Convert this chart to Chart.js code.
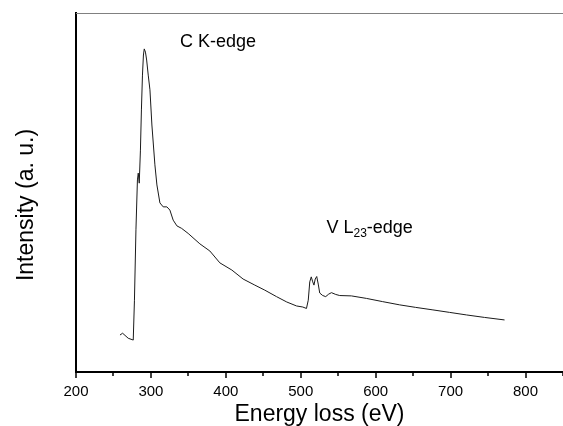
<!DOCTYPE html>
<html>
<head>
<meta charset="utf-8">
<script src="https://cdn.jsdelivr.net/npm/chart.js@4.4.0/dist/chart.umd.min.js"></script>
<style>
    html, body { margin: 0; padding: 0; background: #fff; }
    #wrap { width: 563px; height: 426px; position: relative; }
</style>
</head>
<body>
<div id="wrap"><canvas id="eelsChart"></canvas></div>
<script>
// EELS spectrum values
const energy = [
    258.7, 262.2, 269.7, 276.4, 278.0, 280.0, 282.0, 283.1, 284.4, 286.0,
    287.3, 288.7, 290.0, 291.1, 292.7, 294.3, 296.4, 298.7, 301.3, 305.3,
    308.0, 312.0, 316.4, 321.3, 325.3, 329.7, 334.7, 341.0, 349.7, 365.3,
    378.7, 392.0, 408.0, 423.0, 438.7, 452.0, 467.6, 481.3, 494.3, 502.7,
    507.6, 510.0, 512.0, 514.0, 516.0, 517.6, 519.3, 521.3, 523.3, 525.3,
    529.3, 533.3, 537.3, 541.0, 546.7, 552.0, 567.6, 587.6, 609.3, 632.0,
    653.3, 676.4, 698.7, 721.0, 745.3, 772.0
];
const intensity = [
    10.3, 10.8, 9.4, 8.9, 20.0, 39.6, 53.5, 55.4, 52.6, 61.8,
    73.0, 82.7, 88.3, 90.0, 89.1, 86.9, 82.7, 78.6, 68.8, 57.7,
    52.1, 47.1, 46.0, 46.0, 45.1, 42.3, 40.7, 40.0, 38.6, 35.7,
    33.7, 30.4, 28.4, 25.9, 24.2, 22.8, 21.0, 19.5, 18.4, 18.1,
    17.7, 20.0, 25.1, 26.5, 25.1, 24.2, 25.9, 26.6, 24.5, 22.0,
    21.3, 21.0, 21.7, 22.1, 21.6, 21.3, 21.2, 20.5, 19.6, 18.7,
    18.0, 17.3, 16.6, 15.9, 15.2, 14.5
];
const majorTicks = [200, 300, 400, 500, 600, 700, 800];
const minorTicks = [250, 350, 450, 550, 650, 750, 850];
const xTitle = 'Energy loss (eV)';
const yTitle = 'Intensity (a. u.)';

const FONT = '"Liberation Sans", Arial, sans-serif';
Chart.defaults.font.family = FONT;
Chart.defaults.color = '#000';

// ticks, top frame line, y title and edge labels
const decorations = {
    id: 'decorations',
    afterDraw(chart) {
        const ctx = chart.ctx;
        const area = chart.chartArea;
        const xs = chart.scales.x;
        const ys = chart.scales.y;
        ctx.save();

        // top frame line
        ctx.strokeStyle = '#808080';
        ctx.lineWidth = 1;
        ctx.beginPath();
        ctx.moveTo(area.left, area.top + 0.5);
        ctx.lineTo(area.right, area.top + 0.5);
        ctx.stroke();

        // x tick marks (major and minor)
        ctx.strokeStyle = '#000';
        ctx.lineWidth = 1.5;
        const drawTick = (v, len) => {
            const px = Math.round(xs.getPixelForValue(v));
            ctx.beginPath();
            ctx.moveTo(px, area.bottom);
            ctx.lineTo(px, area.bottom + len);
            ctx.stroke();
        };
        majorTicks.forEach(v => drawTick(v, 6));
        minorTicks.forEach(v => drawTick(v, 4));

        // y title
        ctx.fillStyle = '#000';
        ctx.font = '23px ' + FONT;
        ctx.textAlign = 'center';
        ctx.textBaseline = 'middle';
        ctx.translate(27, 205);
        ctx.rotate(-Math.PI / 2);
        ctx.fillText(yTitle, 0, 0);
        ctx.setTransform(1, 0, 0, 1, 0, 0);

        // edge labels
        ctx.textAlign = 'left';
        ctx.textBaseline = 'alphabetic';
        ctx.font = '18px ' + FONT;
        let x = xs.getPixelForValue(338.7);
        let y = ys.getPixelForValue(90.5);
        ctx.fillText('C K-edge', x, y);

        x = xs.getPixelForValue(534.3);
        y = ys.getPixelForValue(38.7);
        ctx.fillText('V L', x, y);
        x += ctx.measureText('V L').width;
        ctx.font = '12px ' + FONT;
        ctx.fillText('23', x, y + 4);
        x += ctx.measureText('23').width;
        ctx.font = '18px ' + FONT;
        ctx.fillText('-edge', x, y);

        ctx.restore();
    }
};

new Chart(document.getElementById('eelsChart'), {
    type: 'line',
    data: {
        datasets: [{
            data: energy.map((e, i) => ({ x: e, y: intensity[i] })),
            borderColor: '#1a1a1a',
            borderWidth: 1,
            pointRadius: 0,
            tension: 0,
            fill: false
        }]
    },
    options: {
        responsive: true,
        maintainAspectRatio: false,
        animation: false,
        layout: { padding: { top: 13, right: 0, left: 0, bottom: 0 } },
        plugins: {
            legend: { display: false },
            tooltip: { enabled: false }
        },
        scales: {
            x: {
                type: 'linear',
                min: 200,
                max: 850,
                afterBuildTicks: scale => {
                    scale.ticks = majorTicks.map(v => ({ value: v }));
                },
                afterFit: scale => { scale.height = 54; },
                ticks: {
                    padding: 11,
                    maxRotation: 0,
                    font: { size: 15 },
                    color: '#000'
                },
                grid: { display: false, drawTicks: false },
                border: { display: true, color: '#000', width: 2 },
                title: {
                    display: true,
                    text: xTitle,
                    font: { size: 23, lineHeight: 1 },
                    padding: { top: 0, bottom: 0 },
                    color: '#000'
                }
            },
            y: {
                min: 0,
                max: 100,
                afterFit: scale => { scale.width = 76; },
                ticks: { display: false },
                grid: { display: false, drawTicks: false },
                border: { display: true, color: '#000', width: 2 },
                title: { display: false }
            }
        }
    },
    plugins: [decorations]
});
</script>
</body>
</html>
